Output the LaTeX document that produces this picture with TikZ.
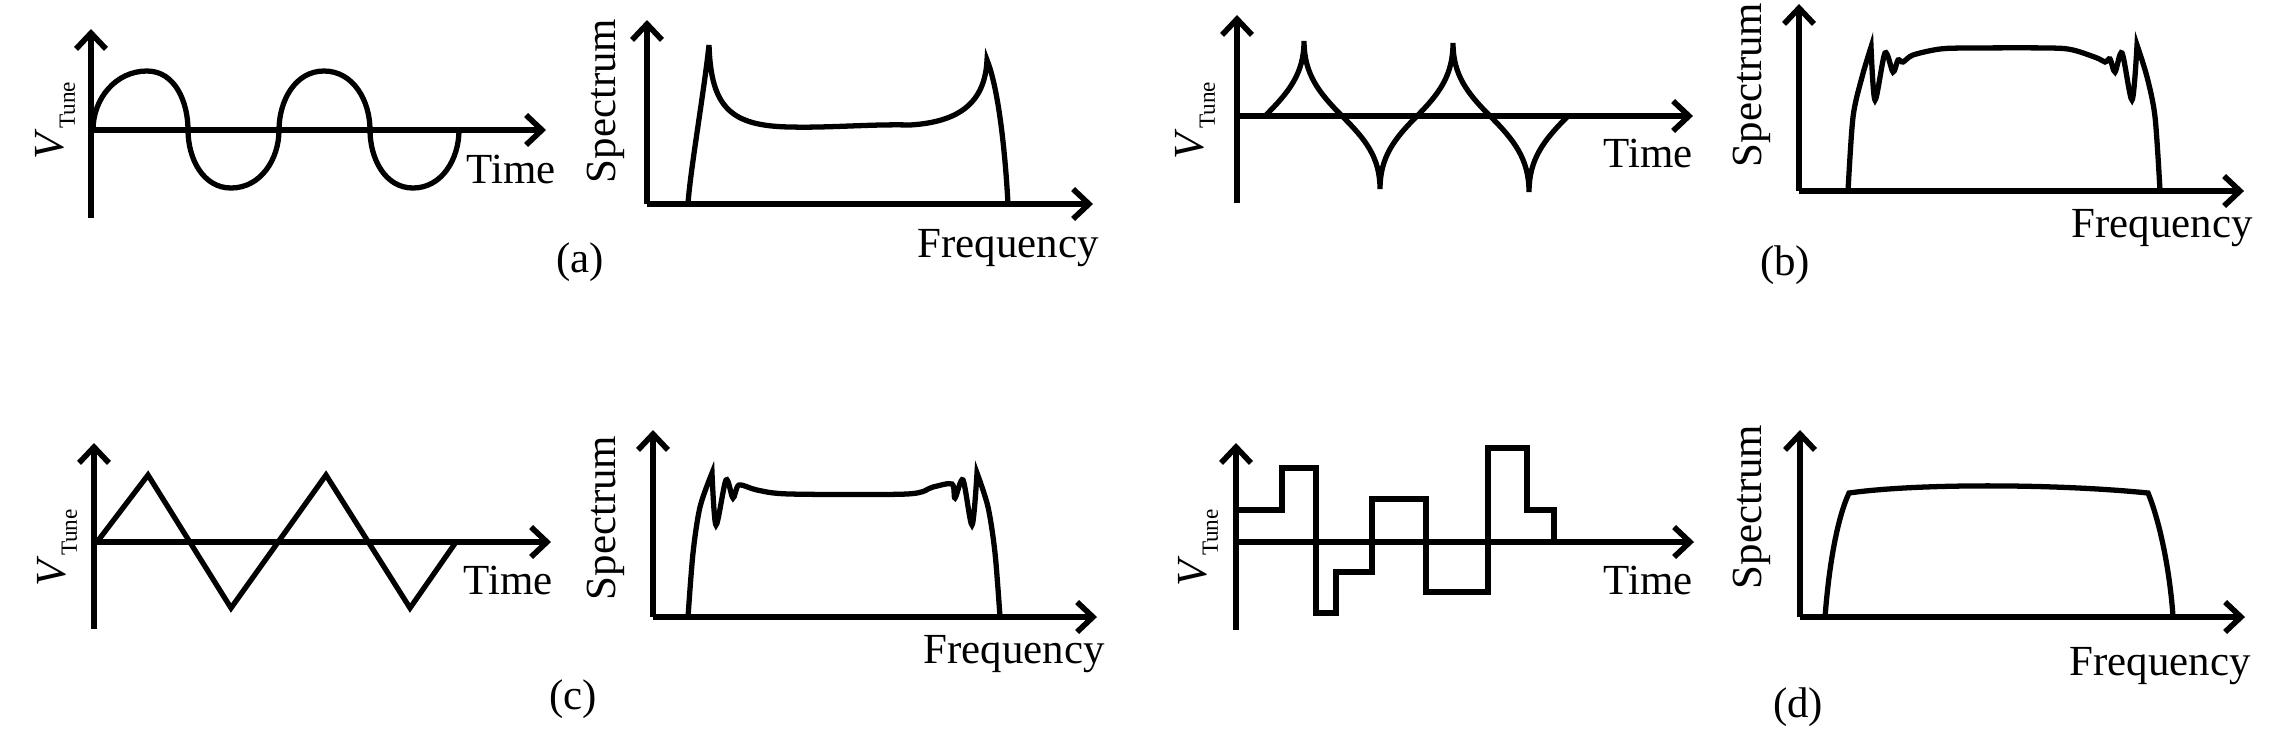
\documentclass[tikz,border=0pt]{standalone}
\usepackage{fontspec}
\setmainfont{Liberation Serif}
\usetikzlibrary{arrows.meta}
\newcommand{\vtune}{\textit{V}\raisebox{-3.4pt}{\fontsize{6.6}{8}\selectfont Tune}}

\begin{document}
\begin{tikzpicture}[x=0.01cm, y=0.01cm]
    \tikzstyle{every node}=[font=\fontsize{12.2}{14.6}\selectfont, inner sep=0pt]
    \tikzstyle{axis}=[line width=1.6pt, -{Straight Barb[length=4.5pt, width=8.5pt]}]
    \tikzstyle{wave}=[line width=1.5pt]
    \tikzstyle{vlabel}=[rotate=90, anchor=base west]
    \useasboundingbox (0,0) rectangle (2283,732);

    % (a)
    \draw[axis] (91,514) -- (91,703);
    \draw[axis] (91,602) -- (546,602);
    \draw[wave] (93,602) to[out=90,in=180] (147,661) to[out=0,in=90] (188,602)
        to[out=-90,in=180] (231,544) to[out=0,in=-90] (279,602)
        to[out=90,in=180] (324,661) to[out=0,in=90] (370,602)
        to[out=-90,in=180] (413,544) to[out=0,in=-90] (459,602);
    \node[vlabel] (vta) at (63,572) {\vtune};
    \node[anchor=base west] (ta) at (466,549) {Time};
    \draw[axis] (647,528) -- (647,712);
    \draw[axis] (647,528) -- (1093,528);
    \draw[wave] (688,528) .. controls (690,560) and (704,640) .. (709,687)
        .. controls (711,625) and (730,606) .. (790,605)
        .. controls (830,604) and (870,608) .. (910,607)
        .. controls (960,610) and (985,630) .. (987,672)
        .. controls (996,650) and (1004,600) .. (1008,528);
    \node[rotate=90] (spa) at (606,631) {Spectrum};
    \node[anchor=base west] (fa) at (917,475) {Frequency};
    \node[anchor=base] (capa) at (580,460) {(a)};

    % (b)
    \draw[axis] (1237,529) -- (1237,717);
    \draw[axis] (1237,616) -- (1693,616);
    \draw[wave] (1265,616) to[out=45,in=-90] (1304,691) to[out=-90,in=135] (1342,616)
        to[out=-45,in=90] (1380,543) to[out=90,in=-135] (1417,616)
        to[out=45,in=-90] (1453,689) to[out=-90,in=135] (1490,616)
        to[out=-45,in=90] (1529,540) to[out=90,in=-135] (1568,616);
    \node[vlabel] (vtb) at (1203,572) {\vtune};
    \node[anchor=base west] (tb) at (1603,565) {Time};
    \draw[axis] (1799,541) -- (1799,728);
    \draw[axis] (1799,541) -- (2244,541);
    \draw[wave] plot[smooth] coordinates {(1848,541) (1853,615) (1862,655) (1871,685)}
        -- plot[smooth] coordinates {(1871,685) (1875,632) (1885,679) (1893,660) (1898,672)
            (1903,670) (1913,677) (1940,683) (1970,684) (2050,684) (2073,682) (2097,674)
            (2105,670) (2110,673) (2115,660) (2122,679) (2132,632) (2137,687)}
        -- plot[smooth] coordinates {(2137,687) (2147,655) (2155,615) (2160,541)};
    \node[rotate=90] (spb) at (1752,647) {Spectrum};
    \node[anchor=base west] (fb) at (2071,495) {Frequency};
    \node[anchor=base] (capb) at (1785,457) {(b)};

    % (c)
    \draw[axis] (94,103) -- (94,289);
    \draw[axis] (94,190) -- (551,190);
    \draw[wave] (97,190) -- (148,257) -- (231,124) -- (326,257) -- (410,124) -- (456,190);
    \node[vlabel] (vtc) at (65,145) {\vtune};
    \node[anchor=base west] (tc) at (463,138) {Time};
    \draw[axis] (653,115) -- (653,302);
    \draw[axis] (653,115) -- (1097,115);
    \draw[wave] plot[smooth] coordinates {(688,115) (693,179) (700,225) (712,259)}
        -- plot[smooth] coordinates {(712,259) (716,207) (726,252) (733,234) (739,247)
            (757,242) (790,238) (907,238) (933,245) (952,248) (955,234) (963,252)
            (972,207) (977,259)}
        -- plot[smooth] coordinates {(977,259) (988,225) (995,179) (1000,115)};
    \node[rotate=90] (spc) at (606,214) {Spectrum};
    \node[anchor=base west] (fc) at (923,69) {Frequency};
    \node[anchor=base] (capc) at (573,23) {(c)};

    % (d)
    \draw[axis] (1236,102) -- (1236,289);
    \draw[axis] (1236,190) -- (1694,190);
    \draw[wave] (1236,222) -- (1282,222) -- (1282,264) -- (1316,264) -- (1316,119)
        -- (1336,119) -- (1336,160) -- (1372,160) -- (1372,233) -- (1426,233)
        -- (1426,140) -- (1488,140) -- (1488,284) -- (1527,284) -- (1527,222)
        -- (1554,222) -- (1554,190);
    \node[vlabel] (vtd) at (1206,145) {\vtune};
    \node[anchor=base west] (td) at (1603,138) {Time};
    \draw[axis] (1800,115) -- (1800,302);
    \draw[axis] (1800,115) -- (2245,115);
    \draw[wave] (1825,115) .. controls (1830,180) and (1840,220) .. (1849,239)
        .. controls (1920,249) and (2060,248) .. (2148,239)
        .. controls (2160,210) and (2170,160) .. (2173,115);
    \node[rotate=90] (spd) at (1752,225) {Spectrum};
    \node[anchor=base west] (fd) at (2069,57) {Frequency};
    \node[anchor=base] (capd) at (1798,15) {(d)};
\end{tikzpicture}
\end{document}
